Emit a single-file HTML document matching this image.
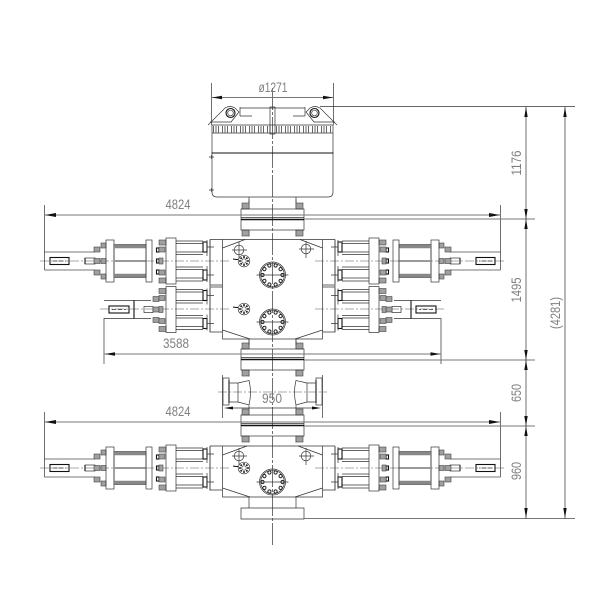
<!DOCTYPE html>
<html><head><meta charset="utf-8"><style>
html,body{margin:0;padding:0;background:#fff}
svg{display:block}
text{font-family:"Liberation Sans",sans-serif;font-size:14px;fill:#808080;text-anchor:middle}
.l{fill:none;stroke:#333;stroke-width:.7}
.d{fill:none;stroke:#777;stroke-width:.9}
.c{fill:none;stroke:#555;stroke-width:.6;stroke-dasharray:9 2 2 2}
.n{fill:#a0a0a0;stroke:#444;stroke-width:.6}
.h{fill:none;stroke:#111;stroke-width:1.1}
.g{fill:none;stroke:#777;stroke-width:1.1}
.a{fill:#111;stroke:none}
</style></head><body>
<svg width="600" height="600" viewBox="0 0 600 600" xmlns="http://www.w3.org/2000/svg">
<defs>
<g id="tail">
  <rect class="n" x="159" y="-21" width="7" height="5"/><rect class="n" x="159" y="-14" width="6" height="5"/>
  <rect class="n" x="159" y="-3" width="4" height="6"/>
  <rect class="n" x="159" y="9" width="6" height="5"/><rect class="n" x="159" y="17" width="7" height="5"/>
  <rect class="l" x="166" y="-23" width="10" height="46" fill="#fff"/>
  <path class="l" d="M176-20H203M176-17.500H203M176-9H203M176-6.500H203M176 6H203M176 8.500H203M176 17H203M176 20H203"/>
  <rect class="h" x="203" y="-19" width="4" height="10"/><rect class="h" x="203" y="9" width="4" height="10"/>
  <path class="l" d="M207-21V-5M207 5V21M207-14H214M207 14H214"/>
  <path class="l" d="M210-21.500V22.500"/>
</g>
<g id="actA">
  <path class="d" d="M44.500 -9H95M44.500 9H95"/>
  <rect class="h" x="50" y="-3.500" width="19" height="7"/>
  <path class="l" d="M53 0H66" stroke-dasharray="4 2"/>
  <rect class="l" x="85" y="-3" width="10" height="6"/><path class="h" d="M85-3V3"/>
  <rect class="n" x="94" y="-14" width="6" height="5"/><rect class="n" x="94" y="-2.500" width="6" height="5"/><rect class="n" x="94" y="9" width="6" height="5"/>
  <rect class="n" x="101" y="-18" width="5" height="5"/><rect class="n" x="101" y="-2.500" width="5" height="5"/><rect class="n" x="101" y="13" width="5" height="5"/>
  <rect class="l" x="106" y="-21" width="8" height="42"/>
  <rect class="l" x="114" y="-16.500" width="32" height="33"/>
  <path d="M114-14.500H146M114 14.500H146" stroke="#888" stroke-width="3.500"/>
  <path d="M114 0H146" stroke="#999" stroke-width="2"/>
  <rect class="l" x="146" y="-21" width="6" height="42"/>
  <rect class="h" x="156.500" y="-13" width="2.500" height="4"/><rect class="h" x="156.500" y="-2" width="2.500" height="4"/><rect class="h" x="156.500" y="9" width="2.500" height="4"/>
  <use href="#tail"/>
</g>
<g id="actB">
  <path class="l" d="M104-9H151M104 9H151"/>
  <path class="h" d="M134-9V9"/>
  <rect class="h" x="109" y="-3.500" width="20" height="7"/>
  <path class="l" d="M112 0H126" stroke-dasharray="4 2"/>
  <rect class="l" x="144" y="-3" width="9" height="6"/>
  <rect class="n" x="153" y="-2.500" width="6" height="5"/>
  <rect class="n" x="153" y="-13" width="6" height="5"/><rect class="n" x="153" y="8" width="6" height="5"/>
  <use href="#tail"/>
</g>
<g id="stack">
  <path class="l" d="M249-20V-10.500M296-20V-10.500M249 10.500V17M296 10.500V17"/>
  <rect class="n" x="242" y="-16.500" width="7" height="6"/><rect class="n" x="296" y="-16.500" width="7" height="6"/>
  <rect class="n" x="242" y="10.500" width="7" height="6"/><rect class="n" x="296" y="10.500" width="7" height="6"/>
  <rect class="l" x="241" y="-10.500" width="63" height="21"/>
  <path d="M241 0H304" stroke="#111" stroke-width="1.500"/>
  <path class="l" d="M241-2H304"/>
</g>
<g id="big">
  <circle class="l" r="13"/><circle class="l" r="11.800"/>
  <g fill="#fff" stroke="#222" stroke-width="1">
    <circle cx="3.100" cy="-9.500" r="1.600"/><circle cx="8.100" cy="-5.900" r="1.600"/><circle cx="10" cy="0" r="1.600"/><circle cx="8.100" cy="5.900" r="1.600"/><circle cx="3.100" cy="9.500" r="1.600"/>
    <circle cx="-3.100" cy="-9.500" r="1.600"/><circle cx="-8.100" cy="-5.900" r="1.600"/><circle cx="-10" cy="0" r="1.600"/><circle cx="-8.100" cy="5.900" r="1.600"/><circle cx="-3.100" cy="9.500" r="1.600"/>
  </g>
  <path class="l" d="M-16 0H16"/>
</g>
<g id="small">
  <circle class="l" r="5.800"/><circle class="l" r="2.200"/>
  <g fill="#222"><circle cx="4" cy="0" r="1"/><circle cx="-4" cy="0" r="1"/><circle cx="0" cy="4" r="1"/><circle cx="0" cy="-4" r="1"/><circle cx="2.800" cy="2.800" r="1"/><circle cx="-2.800" cy="2.800" r="1"/><circle cx="2.800" cy="-2.800" r="1"/><circle cx="-2.800" cy="-2.800" r="1"/></g>
  <path class="h" d="M-11-2L-8-1.500H-6" stroke-width=".8"/>
</g>
<g id="hole"><circle class="l" r="4.800"/><path class="l" d="M0-8V9M-7 0H8"/></g>
<g id="spoolL">
  <rect class="l" x="223" y="378" width="6" height="27"/>
  <path class="l" d="M229 383H238V402H229M238 383L249 380.500Q252 392 249 405L238 402"/>
  <path d="M229 380V403" stroke="#555" stroke-width="1.500"/>
  <path class="l" d="M222.500 375V418"/>
  <path class="a" d="M224 408L233 406.500V409.500Z"/>
</g>
</defs>

<!-- centre lines -->
<path class="l" d="M272.500 88V545" stroke-dasharray="22 2 3 2"/>
<path class="c" d="M40 261H230M315 261H505M100 309H230M315 309H445M40 468H230M315 468H505M218 392H327"/>

<!-- top dimension -->
<path class="l" d="M211.500 83V125M333.500 83V125"/>
<path class="d" d="M211.500 97.500H333.500"/>
<path class="a" d="M212 97.500L222 95.800V99.200ZM333 97.500L323 95.800V99.200Z"/>
<text x="273" y="92" textLength="29" lengthAdjust="spacingAndGlyphs">ø1271</text>

<!-- cap -->
<path class="l" d="M212 133H333M212 125H333M212 125V192Q212 197 217 197H328Q333 197 333 192V125"/>
<path d="M213 129.500H332" stroke="#666" stroke-width="7" stroke-dasharray="1 1.500 1 1.500 1 3"/>
<path d="M211.500 153H333.500" stroke="#111" stroke-width="1.100"/>
<path class="l" d="M208 125L225 108Q230 105 235 108L239 112L231 122H210M337 125L320 108Q315 105 310 108L306 112L314 122H335"/>
<path class="l" d="M240 107V116M305 107V116M240 108H305M240 116H252M293 116H305"/>
<rect class="l" x="270" y="107" width="5" height="27"/>
<circle class="h" cx="230.500" cy="113" r="4.500"/><circle class="l" cx="230.500" cy="113" r="2.800"/>
<circle class="h" cx="314.500" cy="113" r="4.500"/><circle class="l" cx="314.500" cy="113" r="2.800"/>
<path class="l" d="M209 157H214M211.500 155V159M209 190H214M211.500 188V192"/>
<path class="l" d="M249 197V203M296 197V203"/>

<!-- stacks -->
<use href="#stack" y="219.500"/>
<use href="#stack" y="359.500"/>
<use href="#stack" y="425.500"/>

<!-- upper body -->
<path class="l" d="M210 239.500H335M222.500 239.500V339H322.500V239.500M210 285H222.500M210 287H222.500M322.500 285H335M322.500 287H335M210 239.500V332H222.500M335 239.500V332H322.500"/>
<path class="l" d="M222.500 248L245 239.500M322.500 248L300 239.500M222.500 330L250 339M322.500 330L295 339M249 339V345M296 339V345"/>
<use href="#hole" x="239" y="250"/>
<use href="#hole" x="306" y="249"/>
<use href="#small" x="244" y="261"/>
<use href="#small" x="244" y="309"/>
<use href="#big" x="272.500" y="275"/>
<use href="#big" x="272.500" y="322"/>

<!-- actuators upper -->
<use href="#actA" y="261"/>
<use href="#actA" transform="translate(545 261) scale(-1 1)"/>
<use href="#actB" y="309.500"/>
<use href="#actB" transform="translate(545 309.500) scale(-1 1)"/>

<!-- spool -->
<use href="#spoolL"/>
<use href="#spoolL" transform="translate(545 0) scale(-1 1)"/>
<path class="l" d="M233 408H312"/>
<text x="272" y="403" textLength="20" lengthAdjust="spacingAndGlyphs">950</text>

<!-- lower body -->
<path class="l" d="M210 446H335M222.500 446V497H322.500V446M210 446V490H222.500M335 446V490H322.500"/>
<path class="l" d="M222.500 455L247 446M322.500 455L298 446M222.500 488L250 497M322.500 488L295 497M249 497V508M296 497V508M241 508H304V519H241Z"/>
<use href="#hole" x="239" y="456"/>
<use href="#hole" x="306" y="456"/>
<use href="#small" x="244" y="468"/>
<use href="#big" x="272.500" y="482"/>
<use href="#actA" y="468"/>
<use href="#actA" transform="translate(545 468) scale(-1 1)"/>

<!-- horizontal dims -->
<path class="l" d="M44.500 205V270M500.500 205V270M44.500 412V477M500.500 412V477"/>
<path class="g" d="M44.500 215H500.500M44.500 422H500.500"/>
<path class="a" d="M45 215L56 213V217ZM500 215L489 213V217ZM45 422L56 420V424ZM500 422L489 420V424Z"/>
<text x="178" y="209" textLength="25" lengthAdjust="spacingAndGlyphs">4824</text>
<text x="178" y="416" textLength="25" lengthAdjust="spacingAndGlyphs">4824</text>
<path class="l" d="M104 318V364"/><path class="g" d="M441 318V364"/>
<path class="g" d="M104 354H441"/>
<path class="a" d="M105 354L115 352.300V355.700ZM440.500 354L430.500 352.300V355.700Z"/>
<text x="176" y="348" textLength="26" lengthAdjust="spacingAndGlyphs">3588</text>

<!-- right dim -->
<path class="l" d="M320 106.500H575"/>
<path class="g" d="M304 219H535M304 360H535M304 426H535M304 518.500H575"/>
<path class="l" d="M526 107V518.500M565 107V518.500"/>
<path class="a" d="M526 107L524.300 117H527.700ZM526 219L524.300 209H527.700ZM526 219L524.300 229H527.700ZM526 360L524.300 350H527.700ZM526 360L524.300 370H527.700ZM526 426L524.300 416H527.700ZM526 426L524.300 436H527.700ZM526 518L524.300 508H527.700ZM565 107L563.300 117H566.700ZM565 518L563.300 508H566.700Z"/>
<text transform="translate(521 163) rotate(-90)" textLength="25" lengthAdjust="spacingAndGlyphs">1176</text>
<text transform="translate(521 290) rotate(-90)" textLength="25" lengthAdjust="spacingAndGlyphs">1495</text>
<text transform="translate(521 393) rotate(-90)" textLength="18" lengthAdjust="spacingAndGlyphs">650</text>
<text transform="translate(521 471) rotate(-90)" textLength="18" lengthAdjust="spacingAndGlyphs">960</text>
<text transform="translate(560 313) rotate(-90)" textLength="32" lengthAdjust="spacingAndGlyphs">(4281)</text>
</svg>
</body></html>
